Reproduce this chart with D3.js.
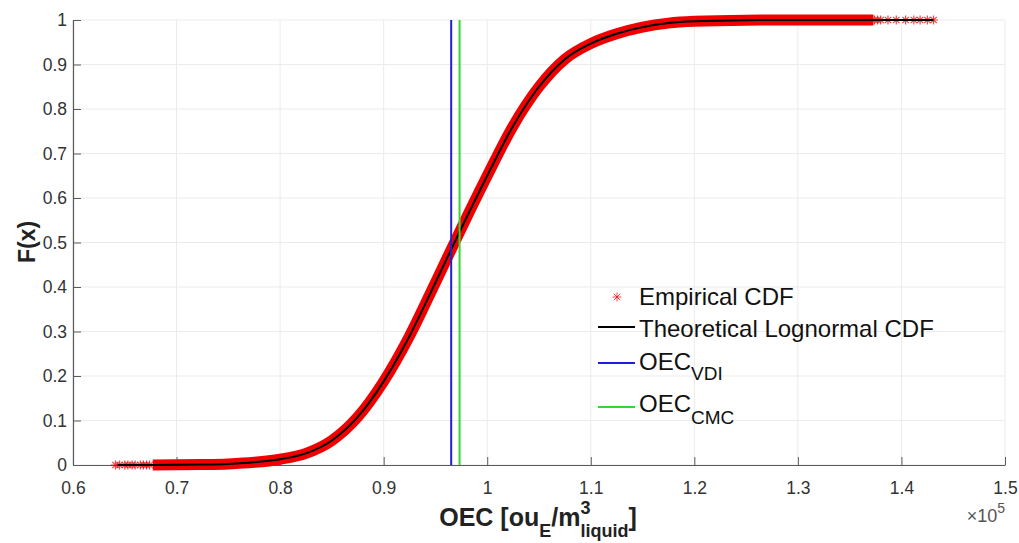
<!DOCTYPE html>
<html><head><meta charset="utf-8">
<script src="https://cdn.jsdelivr.net/npm/d3@7"></script>
<style>
body{margin:0;background:#fff;}
text{font-family:Arial,"Liberation Sans",Helvetica,sans-serif;}
</style>
</head><body>
<svg id="chart" width="1019" height="543"></svg>
<script>
// ---- data (x in units of 1e5 ou_E/m^3) ----
const xTicks = [0.6,0.7,0.8,0.9,1.0,1.1,1.2,1.3,1.4,1.5];
const xTickLabels = ["0.6","0.7","0.8","0.9","1","1.1","1.2","1.3","1.4","1.5"];
const yTicks = [0,0.1,0.2,0.3,0.4,0.5,0.6,0.7,0.8,0.9,1];
const yTickLabels = ["0","0.1","0.2","0.3","0.4","0.5","0.6","0.7","0.8","0.9","1"];

// empirical CDF (dense band)
const empiricalX = [0.677,0.70,0.725,0.75,0.775,0.80,0.825,0.85,0.875,0.90,0.925,0.95,0.975,1.000,1.025,1.05,1.075,1.10,1.125,1.15,1.175,1.20,1.25,1.30,1.373];
const empiricalF = [0.000,0.0003,0.001,0.0025,0.006,0.013,0.026,0.055,0.108,0.188,0.290,0.410,0.532,0.650,0.762,0.850,0.912,0.947,0.969,0.984,0.993,0.997,0.9995,1.000,1.000];
// sparse tail observations
const tailX = [0.641,0.645,0.650,0.653,0.657,0.660,0.665,0.668,0.671,0.674,1.374,1.377,1.380,1.387,1.395,1.404,1.412,1.418,1.425,1.431];
const tailF = [0,0,0,0,0,0,0,0,0,0,1,1,1,1,1,1,1,1,1,1];

// theoretical lognormal CDF
const theoX = [0.643,0.677,0.70,0.725,0.75,0.775,0.80,0.825,0.85,0.875,0.90,0.925,0.95,0.975,1.000,1.025,1.05,1.075,1.10,1.125,1.15,1.175,1.20,1.25,1.30,1.431];
const theoF = [0.000,0.000,0.0003,0.001,0.0025,0.006,0.013,0.026,0.055,0.108,0.188,0.290,0.410,0.532,0.650,0.762,0.850,0.912,0.947,0.969,0.984,0.993,0.997,0.9995,1.000,1.000];

const oecVDI = 0.9652;
const oecCMC = 0.9733;

const legendLabels = ["Empirical CDF","Theoretical Lognormal CDF","OEC","OEC"];
const legendSubs = ["","","VDI","CMC"];
const legendColors = ["#ff0000","#000000","#1f1fd6","#33d633"];

// ---- layout ----
const svg = d3.select("#chart");
const L = 73, R = 1005, T = 20, B = 465;
const x = d3.scaleLinear().domain([0.6,1.5]).range([L,R]);
const y = d3.scaleLinear().domain([0,1]).range([B,T]);

// grid
const grid = svg.append("g");
grid.selectAll("line.vx").data(xTicks).join("line")
  .attr("x1",d=>x(d)).attr("x2",d=>x(d)).attr("y1",T).attr("y2",B)
  .attr("stroke","#ebebeb").attr("stroke-width",1);
grid.selectAll("line.hy").data(yTicks).join("line")
  .attr("x1",L).attr("x2",R).attr("y1",d=>y(d)).attr("y2",d=>y(d))
  .attr("stroke","#ebebeb").attr("stroke-width",1);

// axes
const xAxis = d3.axisBottom(x).tickValues(xTicks).tickFormat((d,i)=>xTickLabels[i]).tickSizeInner(-8).tickSizeOuter(0).tickPadding(14);
const yAxis = d3.axisLeft(y).tickValues(yTicks).tickFormat((d,i)=>yTickLabels[i]).tickSizeInner(-8).tickSizeOuter(0).tickPadding(14);
const gx = svg.append("g").attr("transform",`translate(0,${B})`).call(xAxis);
const gy = svg.append("g").attr("transform",`translate(${L},0)`).call(yAxis);
[gx,gy].forEach(g=>{
  g.select(".domain").attr("stroke","#5a5a5a").attr("stroke-width",1.2);
  g.selectAll(".tick line").attr("stroke","#5a5a5a");
  g.selectAll(".tick text").attr("fill","#333").style("font-size","17.5px").style("font-family","Arial, 'Liberation Sans', sans-serif");
});
gx.selectAll(".tick text").attr("dy","0.85em");
gy.selectAll(".tick text").attr("x",-6);

// empirical band
const line = d3.line().x(d=>x(d[0])).y(d=>y(d[1])).curve(d3.curveMonotoneX);
const empPts = empiricalX.map((v,i)=>[v,empiricalF[i]]);
svg.append("path").datum(empPts).attr("d",line)
  .attr("fill","none").attr("stroke","#f00000").attr("stroke-width",11).attr("stroke-linecap","butt");

// asterisk markers
const ast = "M-4.5,0H4.5M0,-4.5V4.5M-3.2,-3.2L3.2,3.2M-3.2,3.2L3.2,-3.2";
svg.append("g").selectAll("path").data(tailX.map((v,i)=>[v,tailF[i]])).join("path")
  .attr("d",ast).attr("transform",d=>`translate(${x(d[0])},${y(d[1])})`)
  .attr("stroke","#f00000").attr("stroke-width",1.2).attr("fill","none").attr("opacity",0.75);

// theoretical line
const theoPts = theoX.map((v,i)=>[v,theoF[i]]);
svg.append("path").datum(theoPts).attr("d",line)
  .attr("fill","none").attr("stroke","#000").attr("stroke-width",2);

// OEC lines
svg.append("line").attr("x1",x(oecVDI)).attr("x2",x(oecVDI)).attr("y1",T).attr("y2",B)
  .attr("stroke",legendColors[2]).attr("stroke-width",2);
svg.append("line").attr("x1",x(oecCMC)).attr("x2",x(oecCMC)).attr("y1",T).attr("y2",B)
  .attr("stroke",legendColors[3]).attr("stroke-width",2);

// legend
const lg = svg.append("g");
const lineRows = [327,363,407];
const textBase = [305,337,370,412];
const subDy = [0,0,10,12];
lg.append("path").attr("d",ast).attr("transform","translate(617,297)").attr("stroke","#f00000").attr("fill","none").attr("stroke-width",1).attr("opacity",0.7);
[1,2,3].forEach((k,j)=>{
  lg.append("line").attr("x1",598).attr("x2",635).attr("y1",lineRows[j]).attr("y2",lineRows[j])
    .attr("stroke",legendColors[k]).attr("stroke-width",2);
});
legendLabels.forEach((lab,i)=>{
  const t = lg.append("text").attr("x",639).attr("y",textBase[i]).attr("fill","#111").style("font-size","24px");
  t.append("tspan").text(lab);
  if(legendSubs[i]) t.append("tspan").attr("dy",subDy[i]).style("font-size","19px").text(legendSubs[i]);
});

// y label
svg.append("text").attr("transform","translate(35,242) rotate(-90)").attr("text-anchor","middle")
  .style("font-size","23px").style("font-weight","bold").attr("fill","#222").text("F(x)");

// x label with sub/superscripts
const xl = svg.append("g");
let cx = 435;
function part(str,size,base){
  const t = xl.append("text").attr("x",cx).attr("y",base).style("font-size",size+"px").style("font-weight","bold").attr("fill","#222").text(str);
  return t.node().getComputedTextLength();
}
cx += part("OEC [ou",25,526);
cx += part("E",18,537);
cx += part("/m",25,526);
const w3 = part("3",18,514);
const wl = part("liquid",18,537);
cx += Math.max(w3,wl);
cx += part("]",25,526);
const totalW = cx - 435;
xl.attr("transform",`translate(${538 - (435 + totalW/2)},0)`);

// exponent label
const ex = svg.append("text").attr("x",1005).attr("y",522).attr("text-anchor","end").attr("fill","#555").style("font-size","18px");
ex.append("tspan").text("\u00d710");
ex.append("tspan").attr("dy",-9).style("font-size","14px").text("5");
</script>
</body></html>
